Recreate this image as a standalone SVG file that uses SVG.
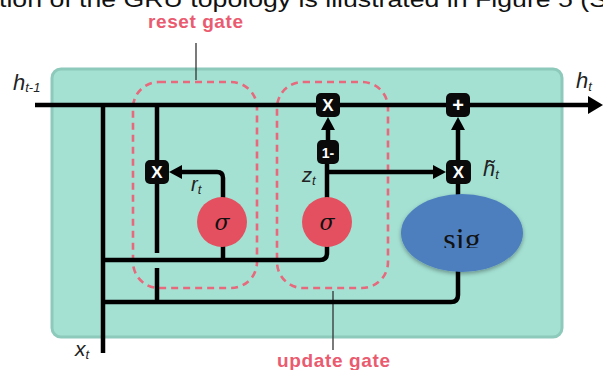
<svg xmlns="http://www.w3.org/2000/svg" width="603" height="370" viewBox="0 0 603 370">
<style>
.ln{fill:none;stroke:#000;stroke-width:4.5;stroke-linejoin:round}
.dash{fill:none;stroke:#e8687c;stroke-width:2.6;stroke-dasharray:7 5}
.gate{font-family:"Liberation Sans",Arial,sans-serif;font-weight:bold;font-size:19px;fill:#ea5b70}
.lbl{font-family:"Liberation Sans",Arial,sans-serif;font-style:italic;fill:#222}
.op{fill:#0a0a0a}
.opt{font-family:"Liberation Sans",Arial,sans-serif;font-weight:bold;fill:#fff;text-anchor:middle}
.sg{fill:#e4505f}
.sgt{font-family:"DejaVu Serif",serif;font-style:italic;font-size:22px;fill:#111;text-anchor:middle}
.ah{fill:#000}
</style>
<defs>
<clipPath id="sigclip"><rect x="400" y="190" width="130" height="58"/></clipPath>
<filter id="sh" x="-20%" y="-20%" width="140%" height="150%"><feDropShadow dx="0" dy="2" stdDeviation="2" flood-color="#000" flood-opacity="0.35"/></filter>
</defs>
<rect width="603" height="370" fill="#fff"/>
<text x="-1" y="7" font-family="'Liberation Sans',Arial,sans-serif" font-size="22" fill="#111" textLength="608" lengthAdjust="spacingAndGlyphs">tion of the GRU topology is illustrated in Figure 5 (S</text>

<g id="cell">
<rect x="52" y="69" width="510" height="268" rx="9" fill="#a4e1d3" stroke="#8ecabb" stroke-width="3"/>
</g>

<g id="gates">
<rect class="dash" x="133" y="82" width="124" height="206" rx="26"/>
<rect class="dash" x="277" y="82" width="111" height="206" rx="26"/>
<line x1="196" y1="43" x2="196" y2="80" stroke="#333" stroke-width="1.3"/>
<line x1="333" y1="291" x2="333" y2="350" stroke="#333" stroke-width="1.3"/>
<text class="gate" x="148" y="28" textLength="95">reset gate</text>
<text class="gate" x="277" y="367" textLength="113">update gate</text>
</g>

<g id="connectors">
<line class="ln" x1="35" y1="105" x2="590" y2="105"/>
<polygon class="ah" points="588,96 603,105 588,114"/>
<path class="ln" d="M103,105 V353"/>
<path class="ln" d="M103,260 H320 Q327,260 327,253 V246"/>
<line class="ln" x1="223" y1="246" x2="223" y2="260"/>
<path class="ln" d="M103,302 H451 Q458,302 458,295 V270"/>
<line class="ln" x1="157" y1="105" x2="157" y2="253"/>
<line class="ln" x1="157" y1="268" x2="157" y2="302"/>
<path class="ln" d="M223,198 V178 Q223,172 217,172 H180"/>
<polygon class="ah" points="182,165 169,172 182,179"/>
<line class="ln" x1="327" y1="198" x2="327" y2="162"/>
<line class="ln" x1="327" y1="172" x2="436" y2="172"/>
<polygon class="ah" points="433,165 446,172 433,179"/>
<line class="ln" x1="328" y1="140" x2="328" y2="128"/>
<polygon class="ah" points="321,130 328,117 335,130"/>
<line class="ln" x1="458" y1="160" x2="458" y2="128"/>
<polygon class="ah" points="451,130 458,117 465,130"/>
<line class="ln" x1="458" y1="183" x2="458" y2="196"/>
</g>

<g id="reset-mult">
<rect class="op" x="145" y="160" width="24" height="24" rx="5"/>
<text class="opt" x="157" y="178" font-size="17">X</text>
</g>
<g id="update-mult">
<rect class="op" x="316" y="93" width="24" height="24" rx="5"/>
<text class="opt" x="328" y="111" font-size="17">X</text>
</g>
<g id="one-minus">
<rect class="op" x="317" y="140" width="22" height="24" rx="5"/>
<text class="opt" x="328" y="157.5" font-size="14">1-</text>
</g>
<g id="plus">
<rect class="op" x="446" y="93" width="24" height="24" rx="5"/>
<text class="opt" x="458" y="111.5" font-size="20">+</text>
</g>
<g id="cand-mult">
<rect class="op" x="446" y="160" width="25" height="24" rx="5"/>
<text class="opt" x="458.5" y="178" font-size="17">X</text>
</g>

<g id="sigma-r">
<circle class="sg" cx="222" cy="222" r="25"/>
<text class="sgt" x="222" y="230">σ</text>
</g>
<g id="sigma-z">
<circle class="sg" cx="327" cy="222" r="25"/>
<text class="sgt" x="327" y="230">σ</text>
</g>
<g id="sig">
<ellipse cx="462" cy="233" rx="61" ry="39" fill="#4d7fbe" filter="url(#sh)"/>
<text x="462" y="250" clip-path="url(#sigclip)" font-family="'Liberation Serif','Times New Roman',serif" font-size="32" fill="#111" text-anchor="middle">sig</text>
</g>

<g id="labels">
<text class="lbl" x="13" y="90" font-size="22">h<tspan font-size="13" dy="2">t-1</tspan></text>
<text class="lbl" x="576" y="88" font-size="22">h<tspan font-size="13" dy="3">t</tspan></text>
<text class="lbl" x="191" y="191" font-size="20">r<tspan font-size="13" dy="3">t</tspan></text>
<text class="lbl" x="302" y="182" font-size="20">z<tspan font-size="13" dy="3">t</tspan></text>
<text class="lbl" x="483" y="176" font-size="22">h̃<tspan font-size="13" dy="3">t</tspan></text>
<text class="lbl" x="75" y="356" font-size="21">x<tspan font-size="13" dy="3">t</tspan></text>
</g>
</svg>
